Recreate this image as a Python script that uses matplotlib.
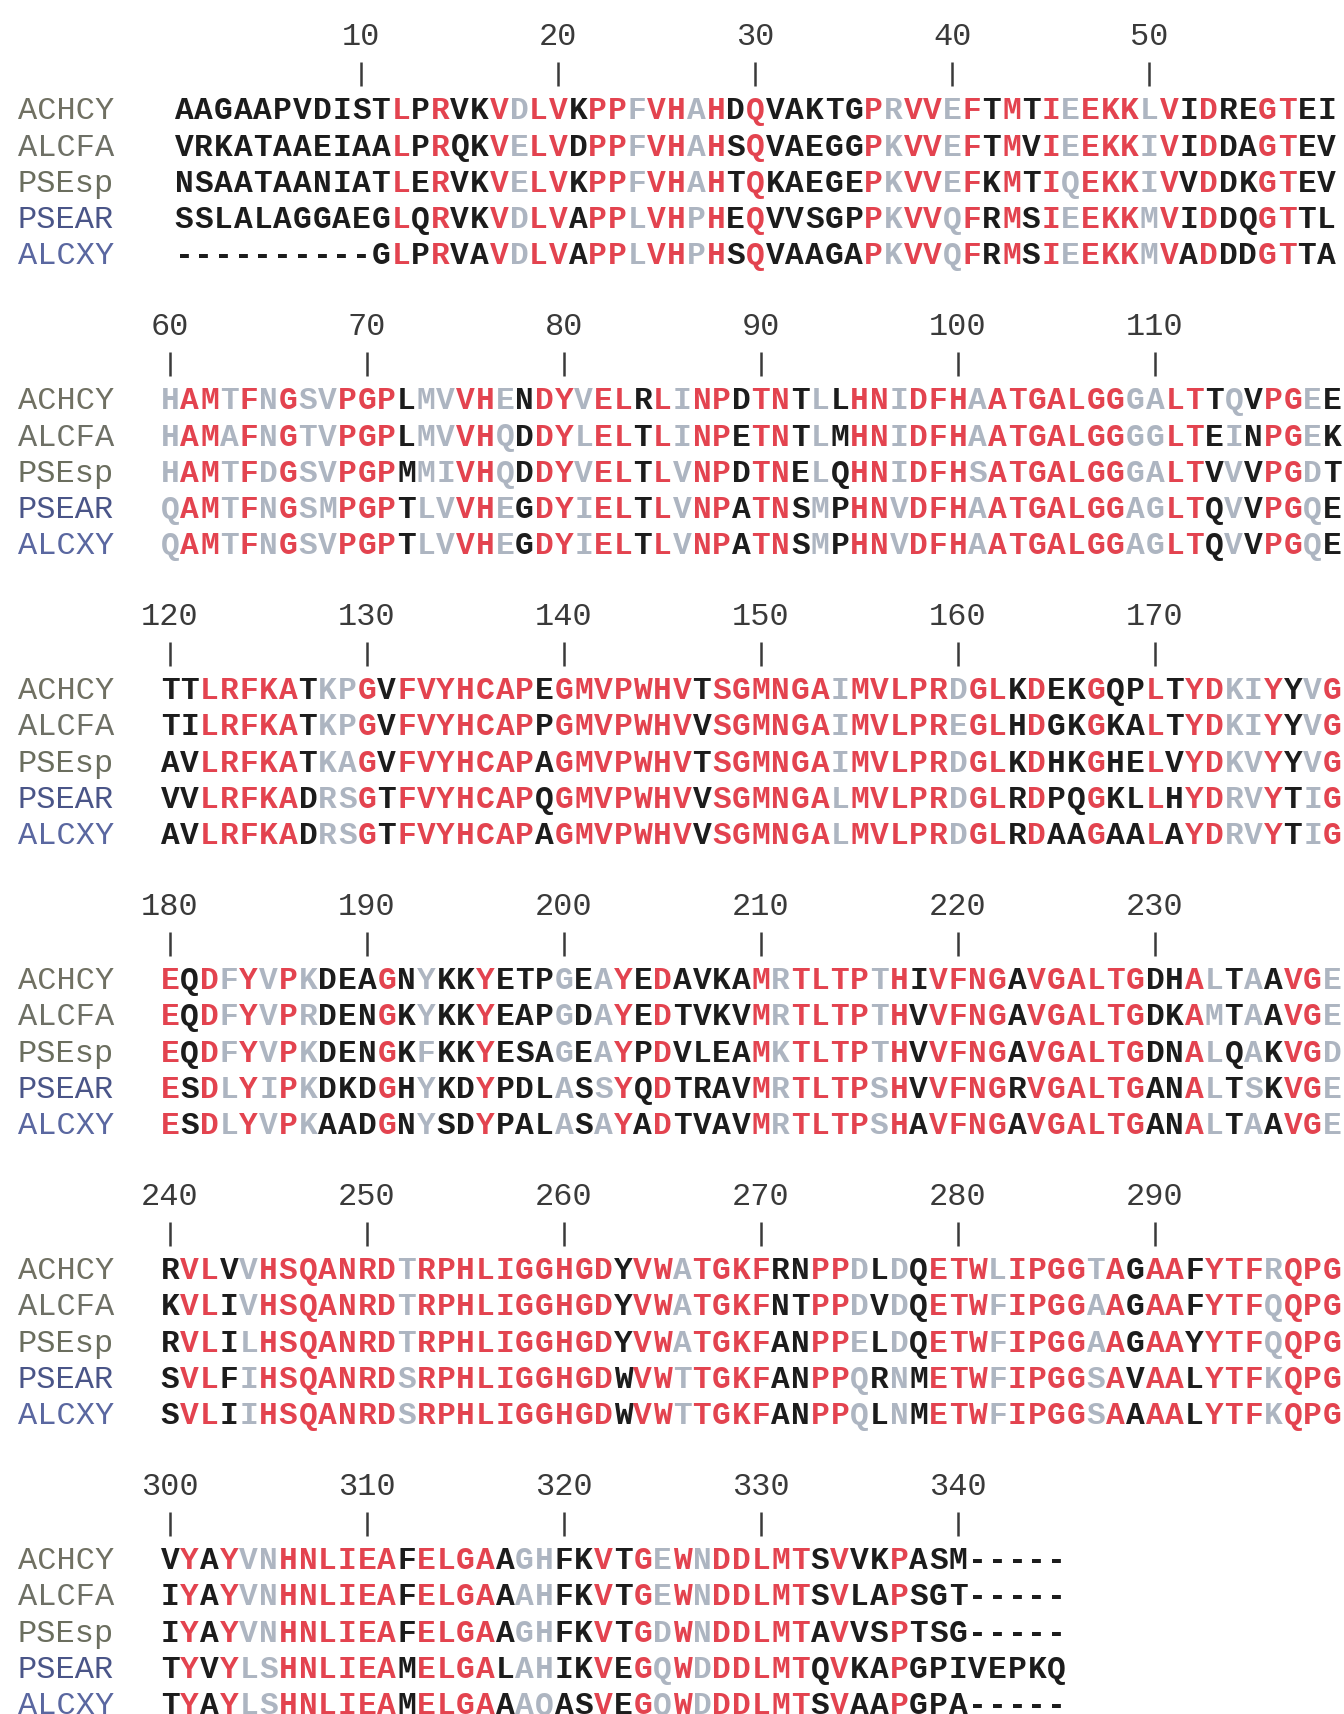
import matplotlib
matplotlib.use("Agg")
import matplotlib.pyplot as plt

# sequence names and their label colours
NAMES = ["ACHCY", "ALCFA", "PSEsp", "PSEAR", "ALCXY"]
NAME_COLORS = ["#707062", "#6e7066", "#6b6e5e", "#4a5588", "#5a67a0"]

# first residue number of each alignment block
BLOCK_START = [1, 60, 120, 180, 240, 300]

BLOCK1 = ["AAGAAPVDISTLPRVKVDLVKPPFVHAHDQVAKTGPRVVEFTMTIEEKKLVIDREGTEI",
          "VRKATAAEIAALPRQKVELVDPPFVHAHSQVAEGGPKVVEFTMVIEEKKIVIDDAGTEV",
          "NSAATAANIATLERVKVELVKPPFVHAHTQKAEGEPKVVEFKMTIQEKKIVVDDKGTEV",
          "SSLALAGGAEGLQRVKVDLVAPPLVHPHEQVVSGPPKVVQFRMSIEEKKMVIDDQGTTL",
          "----------GLPRVAVDLVAPPLVHPHSQVAAGAPKVVQFRMSIEEKKMVADDDGTTA"]
BLOCK2 = ["HAMTFNGSVPGPLMVVHENDYVELRLINPDTNTLLHNIDFHAATGALGGGALTTQVPGEE",
          "HAMAFNGTVPGPLMVVHQDDYLELTLINPETNTLMHNIDFHAATGALGGGGLTEINPGEK",
          "HAMTFDGSVPGPMMIVHQDDYVELTLVNPDTNELQHNIDFHSATGALGGGALTVVVPGDT",
          "QAMTFNGSMPGPTLVVHEGDYIELTLVNPATNSMPHNVDFHAATGALGGAGLTQVVPGQE",
          "QAMTFNGSVPGPTLVVHEGDYIELTLVNPATNSMPHNVDFHAATGALGGAGLTQVVPGQE"]
BLOCK3 = ["TTLRFKATKPGVFVYHCAPEGMVPWHVTSGMNGAIMVLPRDGLKDEKGQPLTYDKIYYVG",
          "TILRFKATKPGVFVYHCAPPGMVPWHVVSGMNGAIMVLPREGLHDGKGKALTYDKIYYVG",
          "AVLRFKATKAGVFVYHCAPAGMVPWHVTSGMNGAIMVLPRDGLKDHKGHELVYDKVYYVG",
          "VVLRFKADRSGTFVYHCAPQGMVPWHVVSGMNGALMVLPRDGLRDPQGKLLHYDRVYTIG",
          "AVLRFKADRSGTFVYHCAPAGMVPWHVVSGMNGALMVLPRDGLRDAAGAALAYDRVYTIG"]
BLOCK4 = ["EQDFYVPKDEAGNYKKYETPGEAYEDAVKAMRTLTPTHIVFNGAVGALTGDHALTAAVGE",
          "EQDFYVPRDENGKYKKYEAPGDAYEDTVKVMRTLTPTHVVFNGAVGALTGDKAMTAAVGE",
          "EQDFYVPKDENGKFKKYESAGEAYPDVLEAMKTLTPTHVVFNGAVGALTGDNALQAKVGD",
          "ESDLYIPKDKDGHYKDYPDLASSYQDTRAVMRTLTPSHVVFNGRVGALTGANALTSKVGE",
          "ESDLYVPKAADGNYSDYPALASAYADTVAVMRTLTPSHAVFNGAVGALTGANALTAAVGE"]
BLOCK5 = ["RVLVVHSQANRDTRPHLIGGHGDYVWATGKFRNPPDLDQETWLIPGGTAGAAFYTFRQPG",
          "KVLIVHSQANRDTRPHLIGGHGDYVWATGKFNTPPDVDQETWFIPGGAAGAAFYTFQQPG",
          "RVLILHSQANRDTRPHLIGGHGDYVWATGKFANPPELDQETWFIPGGAAGAAYYTFQQPG",
          "SVLFIHSQANRDSRPHLIGGHGDWVWTTGKFANPPQRNMETWFIPGGSAVAALYTFKQPG",
          "SVLIIHSQANRDSRPHLIGGHGDWVWTTGKFANPPQLNMETWFIPGGSAAAALYTFKQPG"]
BLOCK6 = ["VYAYVNHNLIEAFELGAAGHFKVTGEWNDDLMTSVVKPASM-----",
          "IYAYVNHNLIEAFELGAAAHFKVTGEWNDDLMTSVLAPSGT-----",
          "IYAYVNHNLIEAFELGAAGHFKVTGDWNDDLMTAVVSPTSG-----",
          "TYVYLSHNLIEAMELGALAHIKVEGQWDDDLMTQVKAPGPIVEPKQ",
          "TYAYLSHNLIEAMELGAAAQASVEGQWDDDLMTSVAAPGPA-----"]
BLOCKS = [BLOCK1, BLOCK2, BLOCK3, BLOCK4, BLOCK5, BLOCK6]

# shading class of each alignment column: r = identical, g = similar, k = other
CLASS1 = "kkkkkkkkkk" "krkrkkrgrr" "krrgrrgrkr" "kkkkkrgrrg" "rkrkrgrrrg" "rkrkkrrkk"
CLASS2 = "grrgrgrggr" "rrkggrrgkr" "rgrrkrgrrk" "rrkgkrrgrr" "rgrrrrrrrg" "grrkgkrrgk"
CLASS3 = "kkrrrrrkgg" "rkrrrrrrrk" "rrrrrrrkrr" "rrrrgrrrrr" "grrkrkkrkk" "rkrrggrkgr"
CLASS4 = "rkrgrgrgkk" "krkgkkrkkk" "gkgrkrkkkk" "rgrrrrgrkr" "rrrkrrrrrr" "kkrgkgkrrg"
CLASS5 = "krrkgrrrrr" "rrgrrrrrrr" "rrrkrrgrrr" "rkkrrgkgkr" "rrgrrrrgrk" "rrkrrrgrrr"
CLASS6 = "krkrggrrrr" "rrkrrrrkgg" "kkrkrgrgrr" "rrrkrkkrkk" "kkkkkk"
CLASSES = [CLASS1, CLASS2, CLASS3, CLASS4, CLASS5, CLASS6]

# ruler numbers shown above each block
RULERS = [[10, 20, 30, 40, 50],
          [60, 70, 80, 90, 100, 110],
          [120, 130, 140, 150, 160, 170],
          [180, 190, 200, 210, 220, 230],
          [240, 250, 260, 270, 280, 290],
          [300, 310, 320, 330, 340]]

SHADE = {"r": "#e3434f", "g": "#adb5c1", "k": "#1c1c1c"}

W, H = 1344, 1715
PITCH = 19.7              # px per alignment column
X0 = [184, 170, 170, 170, 170, 170]   # centre of first column in each block
BLOCK_DY = 290.0
ROW_Y0, ROW_DY = 109.4, 36.1
FONT = ["Liberation Mono", "DejaVu Sans Mono"]


def main():
    fig = plt.figure(figsize=(W / 100, H / 100), dpi=100)
    ax = fig.add_axes([0, 0, 1, 1])
    ax.set_xlim(0, W)
    ax.set_ylim(H, 0)
    ax.axis("off")

    for b, (seqs, cls) in enumerate(zip(BLOCKS, CLASSES)):
        top = b * BLOCK_DY
        # ruler
        for n in RULERS[b]:
            x = X0[b] + (n - BLOCK_START[b]) * PITCH
            ax.text(x, top + 45, str(n), family=FONT, fontsize=23, color="#3a3a3a",
                    ha="center", va="baseline")
            ax.plot([x, x], [top + 63, top + 87], color="#3a3a3a", lw=1.8,
                    solid_capstyle="butt")
        # rows
        for r, seq in enumerate(seqs):
            base = top + ROW_Y0 + r * ROW_DY + 10
            ax.text(18, base, NAMES[r], family=FONT, fontsize=23, color=NAME_COLORS[r],
                    ha="left", va="baseline")
            for i, ch in enumerate(seq):
                ax.text(X0[b] + i * PITCH, base, ch, family=FONT, fontsize=22.5,
                        fontweight="bold", color=SHADE[cls[i]],
                        ha="center", va="baseline")

    fig.savefig("out.png", dpi=100, facecolor="white")


if __name__ == "__main__":
    main()
